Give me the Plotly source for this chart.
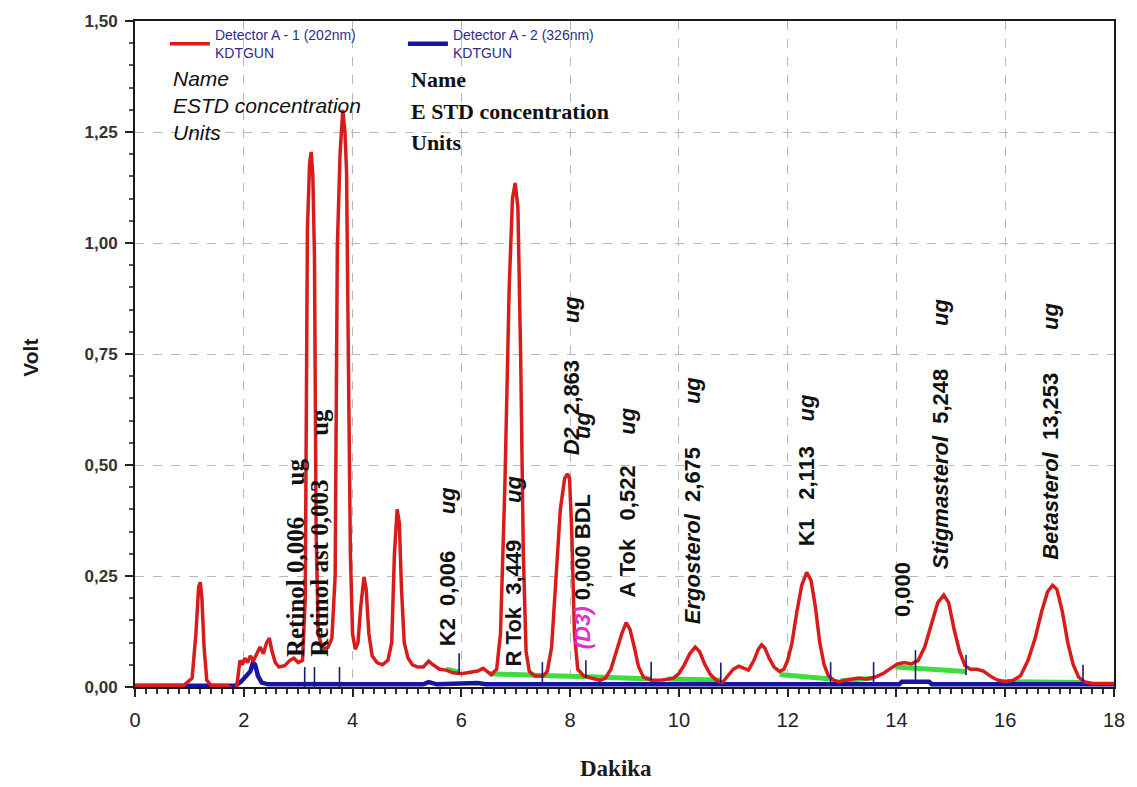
import plotly.graph_objects as go

# Detector A - 1 (202 nm): retention time (min) and signal (V)
red_time = [
    0.00, 0.50, 0.90, 1.05, 1.12, 1.17, 1.20, 1.23, 1.27, 1.32, 1.40, 1.70, 1.80, 1.86,
    1.90, 1.93, 1.97, 2.02, 2.07, 2.12, 2.18, 2.25, 2.30, 2.36, 2.42, 2.47, 2.52, 2.58,
    2.65, 2.75, 2.85, 2.92, 3.00, 3.08,
    3.13, 3.17, 3.21, 3.24, 3.27, 3.30, 3.33, 3.37, 3.45, 3.55, 3.62, 3.68, 3.72, 3.77,
    3.82, 3.86, 3.89, 3.92, 3.96, 4.00,
    4.05, 4.10, 4.15, 4.21, 4.25, 4.30, 4.36, 4.45, 4.55, 4.65, 4.72, 4.77, 4.82, 4.86,
    4.90, 4.95, 5.02, 5.10, 5.20, 5.30, 5.40, 5.48, 5.60,
    5.72, 5.85, 6.00, 6.15, 6.30, 6.40, 6.48, 6.55, 6.65, 6.72, 6.80, 6.88, 6.94, 6.99,
    7.04, 7.09, 7.14, 7.19, 7.25, 7.35, 7.50, 7.58, 7.66, 7.74, 7.82, 7.90, 7.95, 7.99,
    8.03, 8.08, 8.14, 8.25, 8.40, 8.55,
    8.65, 8.75, 8.85, 8.95, 9.03, 9.10, 9.18, 9.26, 9.35, 9.50, 9.70, 9.90, 10.00, 10.10,
    10.20, 10.30, 10.38, 10.48, 10.58, 10.70, 10.80, 10.90, 11.00, 11.10, 11.20, 11.28,
    11.38, 11.46, 11.52, 11.58, 11.66, 11.75, 11.85, 11.93,
    12.00, 12.08, 12.17, 12.26, 12.35, 12.43, 12.51, 12.59, 12.67, 12.75, 12.85, 12.95,
    13.10, 13.30, 13.45, 13.60, 13.75, 13.90, 14.02, 14.15, 14.28, 14.40, 14.52, 14.64,
    14.76, 14.87, 14.96, 15.06, 15.16, 15.26, 15.36, 15.48, 15.60, 15.72, 15.85, 16.00,
    16.15, 16.28, 16.42, 16.55, 16.67, 16.78, 16.87, 16.95, 17.05, 17.15, 17.25, 17.35,
    17.45, 17.60, 18.00,
]
red_volt = [
    0.003, 0.003, 0.004, 0.020, 0.120, 0.225, 0.236, 0.200, 0.090, 0.015, 0.004, 0.003, -0.004, -0.010,
    0.030, 0.060, 0.050, 0.065, 0.055, 0.070, 0.060, 0.080, 0.090, 0.075, 0.100, 0.110, 0.080, 0.055,
    0.045, 0.048, 0.060, 0.065, 0.055, 0.060,
    0.200, 1.030, 1.180, 1.205, 1.150, 0.970, 0.350, 0.120, 0.085, 0.090, 0.110, 0.250, 0.990, 1.200,
    1.300, 1.250, 1.160, 0.780, 0.300, 0.120,
    0.085, 0.100, 0.180, 0.248, 0.220, 0.120, 0.070, 0.055, 0.050, 0.060, 0.100, 0.300, 0.400, 0.370,
    0.220, 0.100, 0.065, 0.050, 0.045, 0.045, 0.058, 0.050, 0.040,
    0.038, 0.032, 0.030, 0.032, 0.036, 0.042, 0.035, 0.028, 0.040, 0.120, 0.450, 0.900, 1.100, 1.135,
    1.080, 0.750, 0.300, 0.080, 0.035, 0.025, 0.025, 0.035, 0.090, 0.250, 0.400, 0.470, 0.480, 0.470,
    0.350, 0.120, 0.040, 0.025, 0.020, 0.015,
    0.020, 0.040, 0.080, 0.120, 0.145, 0.130, 0.090, 0.045, 0.022, 0.015, 0.016, 0.020, 0.030, 0.050,
    0.075, 0.090, 0.080, 0.050, 0.028, 0.014, 0.010, 0.025, 0.040, 0.047, 0.042, 0.038,
    0.060, 0.085, 0.095, 0.088, 0.065, 0.045, 0.035, 0.040,
    0.060, 0.100, 0.170, 0.230, 0.258, 0.240, 0.180, 0.100, 0.050, 0.025, 0.015, 0.012,
    0.016, 0.020, 0.018, 0.022, 0.030, 0.042, 0.052, 0.055, 0.052, 0.060, 0.090, 0.140,
    0.190, 0.207, 0.190, 0.130, 0.080, 0.048, 0.040, 0.040, 0.036, 0.025, 0.016, 0.012,
    0.015, 0.025, 0.060, 0.110, 0.170, 0.215, 0.229, 0.220, 0.170, 0.100, 0.050, 0.022,
    0.012, 0.008, 0.008,
]

# Detector A - 2 (326 nm)
blue_time = [0.00, 1.85, 1.95, 2.05, 2.12, 2.17, 2.21, 2.26, 2.33, 2.45, 5.30, 5.40, 5.55,
             6.30, 6.45, 9.80, 10.00, 14.05, 14.10, 14.60, 14.65, 18.00]
blue_volt = [0.003, 0.003, 0.012, 0.025, 0.035, 0.055, 0.050, 0.025, 0.010, 0.006, 0.006, 0.011, 0.006,
             0.009, 0.006, 0.006, 0.006, 0.006, 0.012, 0.012, 0.006, 0.006]

# Detector A - 2 integration baseline
blue_base_time = [2.84, 3.71]
blue_base_volt = [0.010, 0.010]

# Integration baselines of detector A - 1 peaks (start / end)
base_start_time = [5.72, 6.51, 7.49, 8.62, 9.80, 11.85, 12.97, 13.98, 15.93]
base_start_volt = [0.040, 0.030, 0.026, 0.022, 0.018, 0.028, 0.014, 0.045, 0.012]
base_end_time = [5.96, 7.49, 8.62, 9.49, 10.77, 12.79, 13.58, 15.28, 17.43]
base_end_volt = [0.034, 0.026, 0.022, 0.018, 0.016, 0.018, 0.020, 0.035, 0.010]

# Peak boundary marks
mark_time = [3.12, 3.30, 3.76, 5.96, 7.49, 8.29, 9.49, 10.77, 12.79, 13.58, 14.35, 15.28, 17.43]
mark_low = [0.000, 0.000, 0.000, 0.030, 0.010, 0.020, 0.015, 0.010, 0.010, 0.010, 0.016, 0.027, 0.010]
mark_high = [0.045, 0.045, 0.045, 0.076, 0.056, 0.060, 0.057, 0.055, 0.056, 0.056, 0.083, 0.072, 0.050]

# Peak identification: name, amount, retention time
peak_names = ["Retinol", "Retinol ast", "K2", "R Tok", "D2", "(D3)", "A Tok",
              "Ergosterol", "K1", "", "Stigmasterol", "Betasterol"]
peak_amounts = ["0,006", "0,003", "0,006", "3,449", "2,863", "0,000 BDL", "0,522",
                "2,675", "2,113", "0,000", "5,248", "13,253"]
peak_units = ["ug", "ug", "ug", "ug", "ug", "ug", "ug", "ug", "ug", "", "ug", "ug"]
peak_time = [2.94, 3.39, 5.74, 6.95, 8.02, 8.22, 9.05, 10.24, 12.35, 14.11, 14.81, 16.84]

x_ticks = [0, 2, 4, 6, 8, 10, 12, 14, 16, 18]

assert len(red_time) == len(red_volt)
assert len(blue_time) == len(blue_volt)

W, H = 1137, 787
ML, MR, MT, MB = 135, 21, 18, 100
PW, PH = W - ML - MR, H - MT - MB


def px_x(px):
    return (px - ML) / PW


def px_y(py):
    return (H - MB - py) / PH


fig = go.Figure()

# integration baselines (green)
gx, gy = [], []
for t0, v0, t1, v1 in zip(base_start_time, base_start_volt, base_end_time, base_end_volt):
    gx += [t0, t1, None]
    gy += [v0, v1, None]
fig.add_trace(go.Scatter(x=gx, y=gy, mode="lines", line=dict(color="#3fdc3f", width=5),
                         showlegend=False, hoverinfo="skip"))

fig.add_trace(go.Scatter(x=blue_base_time, y=blue_base_volt, mode="lines",
                         line=dict(color="#8fb0f0", width=1.5), showlegend=False, hoverinfo="skip"))

fig.add_trace(go.Scatter(x=blue_time, y=blue_volt, mode="lines",
                         name="Detector A - 2 (326nm)<br>KDTGUN",
                         line=dict(color="#1616a0", width=4.5)))

fig.add_trace(go.Scatter(x=red_time, y=red_volt, mode="lines",
                         name="Detector A - 1 (202nm)<br>KDTGUN",
                         line=dict(color="#d81c1c", width=3.5)))

# boundary marks
mx, my = [], []
for t, lo, hi in zip(mark_time, mark_low, mark_high):
    mx += [t, t, None]
    my += [lo, hi, None]
fig.add_trace(go.Scatter(x=mx, y=my, mode="lines", line=dict(color="#1c1c70", width=1.6),
                         showlegend=False, hoverinfo="skip"))

# peak labels (rotated, reading upwards)
label_base = [0.065, 0.067, 0.090, 0.043, 0.52, 0.083, 0.200, 0.139, 0.314, 0.155, 0.263, 0.285]
name_gap = [1, 1, 2, 2, 2, 1, 3, 2, 3, 0, 2, 2]
unit_gap = [5, 7, 6, 6, 6, 9, 5, 7, 4, 0, 7, 7]
NB = "\u00a0"
annotations = []
for i, (name, amt, unit, t) in enumerate(zip(peak_names, peak_amounts, peak_units, peak_time)):
    g1 = NB * name_gap[i]
    g2 = NB * unit_gap[i]
    if name.startswith("Retinol"):
        text = f"{name}{g1}{amt}{g2}{unit}"
        font = dict(family="Liberation Serif, Times New Roman, serif", size=25,
                    color="#111111", weight="bold")
    else:
        font = dict(family="Liberation Sans, Arial, sans-serif", size=22,
                    color="#111111", weight="bold")
        if name == "(D3)":
            text = (f"<span style='color:#e02ed2'><i>{name}</i></span>{g1}{amt}"
                    f"{g2}<i>{unit}</i>")
        elif name == "":
            text = amt
        else:
            nm = f"<i>{name}</i>" if name in ("D2", "Ergosterol", "Stigmasterol", "Betasterol") else name
            text = f"{nm}{g1}{amt}{g2}<i>{unit}</i>"
    annotations.append(dict(x=t, y=label_base[i], xref="x", yref="y", text=text,
                            textangle=-90, xanchor="center", yanchor="bottom",
                            showarrow=False, font=font, borderpad=0))

# header texts
for txt, py in [("Name", 76), ("ESTD concentration", 103), ("Units", 130)]:
    annotations.append(dict(x=px_x(171), y=px_y(py), xref="paper", yref="paper", text=f"<i>{txt}</i>",
                            xanchor="left", yanchor="middle", showarrow=False,
                            font=dict(family="Liberation Sans, Arial, sans-serif", size=21,
                                      color="#111111")))
for txt, py in [("Name", 77), ("E STD concentration", 109), ("Units", 140)]:
    annotations.append(dict(x=px_x(410), y=px_y(py), xref="paper", yref="paper", text=txt,
                            xanchor="left", yanchor="middle", showarrow=False,
                            font=dict(family="Liberation Serif, Times New Roman, serif", size=22,
                                      color="#111111", weight="bold")))

# axis titles
annotations.append(dict(x=px_x(30), y=px_y(356), xref="paper", yref="paper", text="Volt",
                        textangle=-90, xanchor="center", yanchor="middle", showarrow=False,
                        font=dict(family="Liberation Sans, Arial, sans-serif", size=21,
                                  color="#1a1a1a", weight="bold")))
annotations.append(dict(x=px_x(617), y=px_y(769), xref="paper", yref="paper", text="Dakika",
                        xanchor="center", yanchor="middle", showarrow=False,
                        font=dict(family="Liberation Serif, Times New Roman, serif", size=23,
                                  color="#1a1a1a", weight="bold")))

fig.update_layout(
    width=W, height=H,
    margin=dict(l=ML, r=MR, t=MT, b=MB),
    paper_bgcolor="white", plot_bgcolor="white",
    separators=",.",
    annotations=annotations,
    legend=dict(orientation="h", x=px_x(165), y=px_y(16), xanchor="left", yanchor="top",
                bgcolor="rgba(0,0,0,0)", entrywidth=183, entrywidthmode="pixels",
                itemwidth=40, traceorder="reversed",
                font=dict(family="Liberation Sans, Arial, sans-serif", size=14, color="#2c2c8c")),
    xaxis=dict(range=[0, 18], tickvals=x_ticks, ticks="outside", ticklen=8, tickwidth=1.5,
               tickcolor="#222", showline=True, linecolor="#1a1a1a", linewidth=2, mirror=True,
               showgrid=True, gridcolor="#b8b8b8", griddash="dash", gridwidth=1, zeroline=False,
               minor=dict(dtick=0.2, ticks="outside", ticklen=5, tickcolor="#333", showgrid=False),
               tickfont=dict(family="Liberation Sans Narrow, Arial Narrow, Liberation Sans", size=20,
                             color="#222"),
               ticklabelstandoff=6),
    yaxis=dict(range=[0, 1.5], tick0=0, dtick=0.25, tickformat=".2f", ticks="outside", ticklen=8,
               tickwidth=1.5, tickcolor="#222", showline=True, linecolor="#1a1a1a", linewidth=2,
               mirror=True, showgrid=True, gridcolor="#b8b8b8", griddash="dash", gridwidth=1,
               zeroline=False,
               minor=dict(dtick=0.05, ticks="outside", ticklen=4, tickcolor="#555", showgrid=False),
               tickfont=dict(family="Liberation Sans, Arial, sans-serif", size=17, color="#333",
                             weight="bold"),
               ticklabelstandoff=4),
)

fig.write_html("out.html")
